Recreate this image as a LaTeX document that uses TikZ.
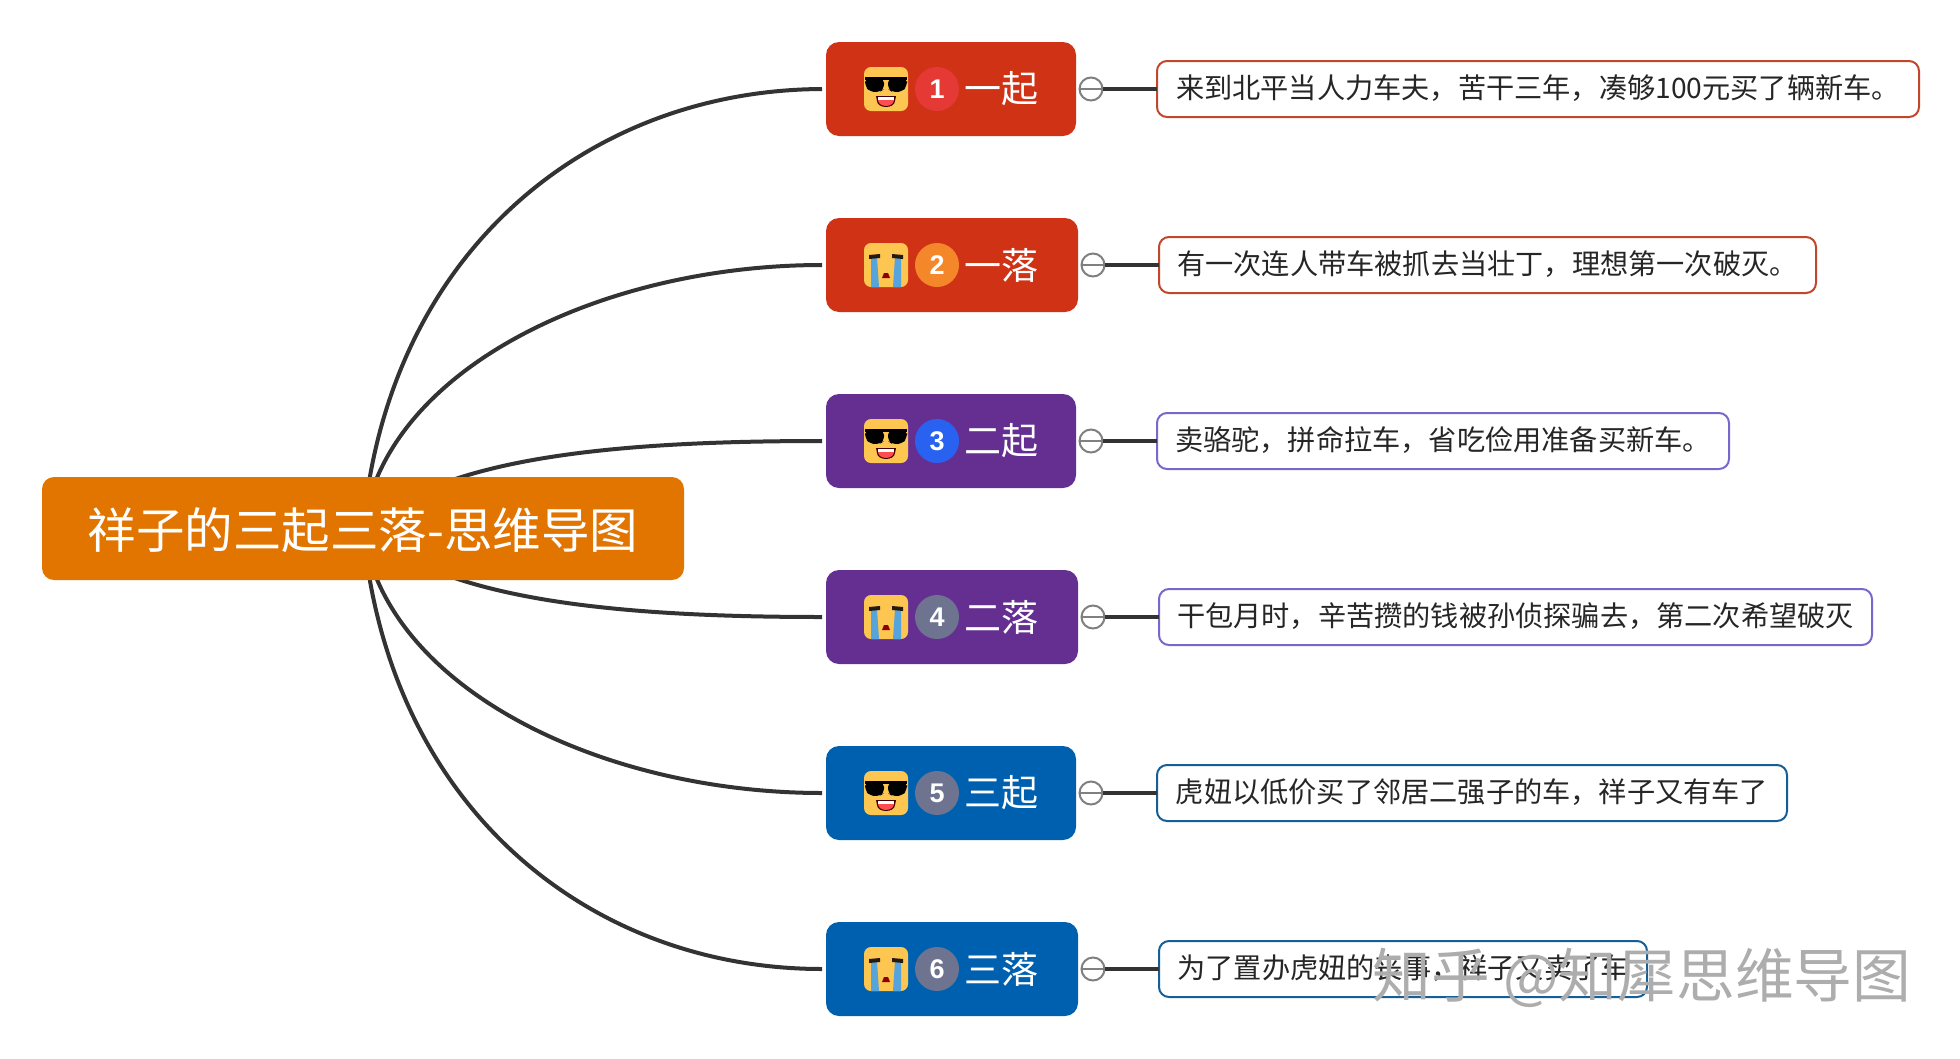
\documentclass[tikz,border=0pt]{standalone}
\usepackage{fontspec}
\setmainfont{Noto Sans CJK SC}
\newfontfamily\digitfont{Liberation Sans}
\usetikzlibrary{backgrounds}
\definecolor{rootorange}{HTML}{E27400}
\definecolor{topicred}{HTML}{D03216}
\definecolor{topicpurple}{HTML}{652F92}
\definecolor{topicblue}{HTML}{0060B0}
\definecolor{linegray}{HTML}{333333}
\definecolor{foldgray}{HTML}{808080}
\definecolor{detailred}{HTML}{C0472C}
\definecolor{detailpurple}{HTML}{7868CC}
\definecolor{detailblue}{HTML}{155F98}
\definecolor{facegold}{HTML}{FDC650}
\definecolor{tearblue}{HTML}{55A5DC}
\definecolor{badgered}{HTML}{E53935}
\definecolor{badgeorange}{HTML}{F5872B}
\definecolor{badgeblue}{HTML}{2962F0}
\definecolor{badgegray}{HTML}{6E7490}
\tikzstyle{rootbox}=[rectangle,fill=rootorange,text=white,rounded corners=12pt,inner sep=0pt,outer sep=0pt,minimum width=642pt,minimum height=103pt,text height=44pt,text depth=5pt,font=\fontsize{48.5}{52}\selectfont]
\tikzstyle{topicbox}=[rectangle,anchor=west,rounded corners=13pt,inner sep=0pt,outer sep=0pt,minimum height=94pt]
\tikzstyle{badge}=[circle,text=white,inner sep=0pt,outer sep=0pt,minimum size=44pt,font=\digitfont\bfseries\fontsize{27}{30}\selectfont]
\tikzstyle{topiclabel}=[text=white,inner sep=0pt,font=\fontsize{37}{40}\selectfont]
\tikzstyle{fold}=[circle,draw=foldgray,line width=2pt,fill=white,inner sep=0pt,outer sep=0pt,minimum size=23pt,path picture={\draw[foldgray,line width=1.5pt] (path picture bounding box.west) -- (path picture bounding box.east);}]
\tikzstyle{detail}=[rectangle,draw,fill=white,anchor=west,line width=2pt,rounded corners=10pt,inner sep=0pt,outer sep=0pt,minimum height=56pt,text height=23.5pt,text depth=4.3pt,text=black!85,font=\fontsize{28.2}{32}\selectfont]
\tikzstyle{branch}=[draw=linegray,line width=4pt,shorten >=4pt]
\tikzstyle{link}=[draw=linegray,line width=4.5pt]
\tikzstyle{brandmark}=[text=black!32,inner sep=0pt,font=\fontsize{58.7}{62}\selectfont]
\tikzset{
    coolface/.pic={
        \fill[facegold,rounded corners=7pt] (-22,-22) rectangle (22,22);
        \fill[black] (-21,-12) rectangle (21,-9);
        \fill[black,rounded corners=5pt] (-21,-11) -- (-2,-11) -- (-2,0) -- (-6,3) -- (-16,3) -- (-21,-3) -- cycle;
        \fill[black,rounded corners=5pt] (21,-11) -- (2,-11) -- (2,0) -- (6,3) -- (16,3) -- (21,-3) -- cycle;
        \fill[black!75!red] (10,7) -- (9,12) arc (0:180:9 and 6) -- (-10,7) -- cycle;
        \fill[red!70!white] (8,11) arc (0:180:8 and 6) -- cycle;
        \fill[white] (-8,8) rectangle (8,11);
    },
    cryface/.pic={
        \fill[facegold,rounded corners=7pt] (-22,-22) rectangle (22,22);
        \fill[tearblue] (-15,-8) -- (-9,-8) -- (-7,22) -- (-15,22) -- cycle;
        \fill[tearblue] (15,-8) -- (9,-8) -- (7,22) -- (15,22) -- cycle;
        \fill[black!80!brown] (-17,-10) -- (-6,-11) -- (-6,-7) -- (-17,-6) -- cycle;
        \fill[black!80!brown] (17,-10) -- (6,-11) -- (6,-7) -- (17,-6) -- cycle;
        \fill[red!55!black] (-4,13) -- (-2,8) -- (2,8) -- (4,13) -- cycle;
    }
}
\begin{document}
\begin{tikzpicture}[x=1pt,y=-1pt]
    \useasboundingbox (0,0) rectangle (1960,1058);
    \node[rootbox] (root) at (363,528.5) {祥子的三起三落-思维导图};

    \path (826,89) node[topicbox,fill=topicred,minimum width=250pt] (top1) {}
        ++ (60,0) pic {coolface}
        ++ (51,0) node[badge,fill=badgered] (num1) {1}
        ++ (64,0) node[topiclabel] (lab1) {一起}
        (top1.east) ++ (15,0) node[fold] (fold1) {}
        ++ (66,0) node[detail,draw=detailred,minimum width=762pt] (note1) {来到北平当人力车夫，苦干三年，凑够100元买了辆新车。} edge[link] (fold1)
        ;
    \path (826,265) node[topicbox,fill=topicred,minimum width=252pt] (top2) {}
        ++ (60,0) pic {cryface}
        ++ (51,0) node[badge,fill=badgeorange] (num2) {2}
        ++ (64,0) node[topiclabel] (lab2) {一落}
        (top2.east) ++ (15,0) node[fold] (fold2) {}
        ++ (66,0) node[detail,draw=detailred,minimum width=657pt] (note2) {有一次连人带车被抓去当壮丁，理想第一次破灭。} edge[link] (fold2)
        ;
    \path (826,441) node[topicbox,fill=topicpurple,minimum width=250pt] (top3) {}
        ++ (60,0) pic {coolface}
        ++ (51,0) node[badge,fill=badgeblue] (num3) {3}
        ++ (64,0) node[topiclabel] (lab3) {二起}
        (top3.east) ++ (15,0) node[fold] (fold3) {}
        ++ (66,0) node[detail,draw=detailpurple,minimum width=572pt] (note3) {卖骆驼，拼命拉车，省吃俭用准备买新车。} edge[link] (fold3)
        ;
    \path (826,617) node[topicbox,fill=topicpurple,minimum width=252pt] (top4) {}
        ++ (60,0) pic {cryface}
        ++ (51,0) node[badge,fill=badgegray] (num4) {4}
        ++ (64,0) node[topiclabel] (lab4) {二落}
        (top4.east) ++ (15,0) node[fold] (fold4) {}
        ++ (66,0) node[detail,draw=detailpurple,minimum width=713pt] (note4) {干包月时，辛苦攒的钱被孙侦探骗去，第二次希望破灭} edge[link] (fold4)
        ;
    \path (826,793) node[topicbox,fill=topicblue,minimum width=250pt] (top5) {}
        ++ (60,0) pic {coolface}
        ++ (51,0) node[badge,fill=badgegray] (num5) {5}
        ++ (64,0) node[topiclabel] (lab5) {三起}
        (top5.east) ++ (15,0) node[fold] (fold5) {}
        ++ (66,0) node[detail,draw=detailblue,minimum width=630pt] (note5) {虎妞以低价买了邻居二强子的车，祥子又有车了} edge[link] (fold5)
        ;
    \path (826,969) node[topicbox,fill=topicblue,minimum width=252pt] (top6) {}
        ++ (60,0) pic {cryface}
        ++ (51,0) node[badge,fill=badgegray] (num6) {6}
        ++ (64,0) node[topiclabel] (lab6) {三落}
        (top6.east) ++ (15,0) node[fold] (fold6) {}
        ++ (66,0) node[detail,draw=detailblue,minimum width=488pt] (note6) {为了置办虎妞的丧事，祥子又卖了车} edge[link] (fold6)
        ;

    \begin{scope}[on background layer]
        \draw[branch] (root.center) .. controls (388,250) and (590,90) .. (top1.west);
        \draw[branch] (root.center) .. controls (384,370) and (600,265) .. (top2.west);
        \draw[branch] (root.center) .. controls (440,460) and (600,441) .. (top3.west);
        \draw[branch] (root.center) .. controls (440,597) and (600,617) .. (top4.west);
        \draw[branch] (root.center) .. controls (384,687) and (600,793) .. (top5.west);
        \draw[branch] (root.center) .. controls (388,808) and (590,969) .. (top6.west);
    \end{scope}

    \node[brandmark] (brand) at (1642,978) {知乎 @知犀思维导图};
\end{tikzpicture}
\end{document}
